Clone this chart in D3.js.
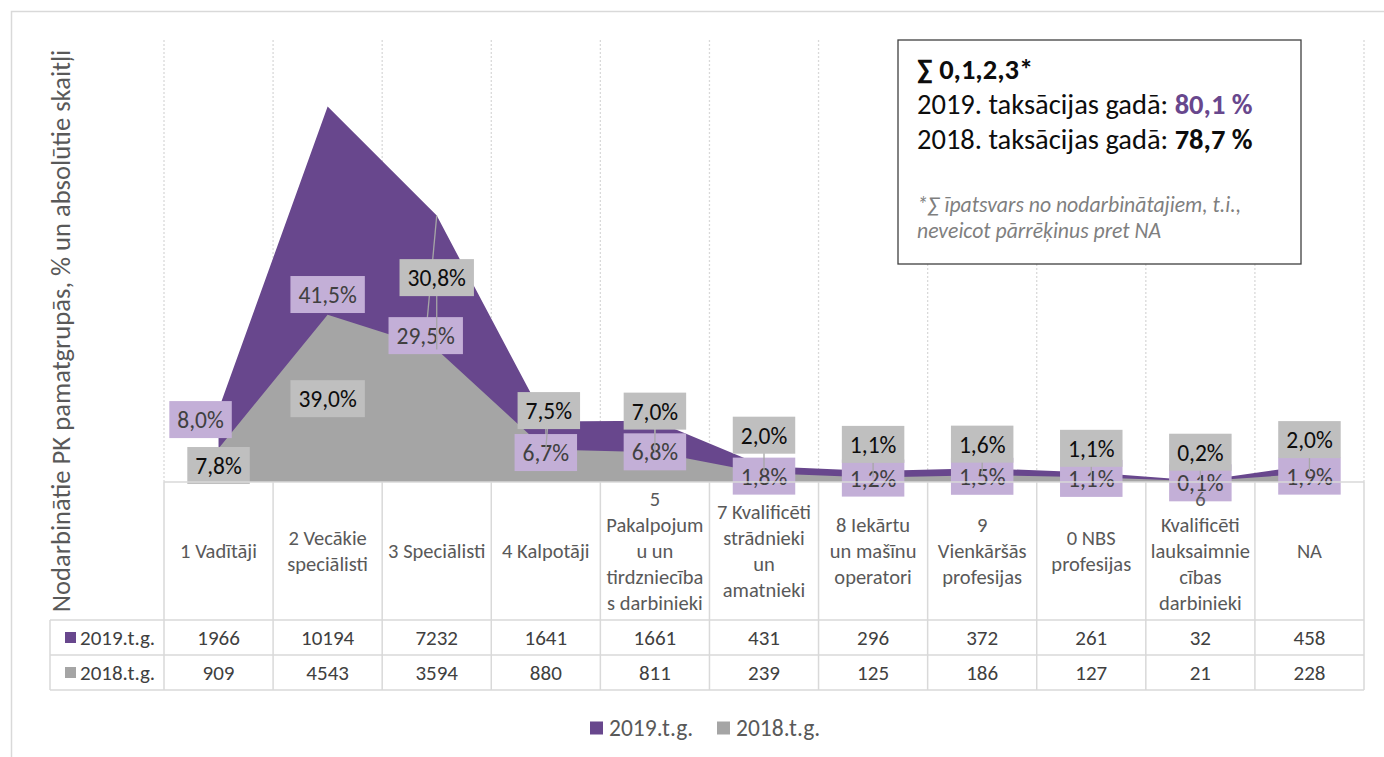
<!DOCTYPE html>
<html lang="lv">
<head>
<meta charset="UTF-8">
<title>Nodarbinātie PK pamatgrupās</title>
<script src="https://cdnjs.cloudflare.com/ajax/libs/d3/7.8.5/d3.min.js"></script>
<style>
  body { margin: 0; background: #fff; }
  svg text { font-family: Carlito, Calibri, Lato, sans-serif; }
</style>
</head>
<body>
<script>
// category names, already wrapped the way the header cells show them
const categories = [
  ["1 Vadītāji"], ["2 Vecākie", "speciālisti"], ["3 Speciālisti"], ["4 Kalpotāji"],
  ["5", "Pakalpojum", "u un", "tirdzniecība", "s darbinieki"],
  ["7 Kvalificēti", "strādnieki", "un", "amatnieki"],
  ["8 Iekārtu", "un mašīnu", "operatori"], ["9", "Vienkāršās", "profesijas"],
  ["0 NBS", "profesijas"], ["6", "Kvalificēti", "lauksaimnie", "cības", "darbinieki"], ["NA"]
];
const series = ["2019.t.g.", "2018.t.g."];
const values2019 = [1966, 10194, 7232, 1641, 1661, 431, 296, 372, 261, 32, 458];
const values2018 = [909, 4543, 3594, 880, 811, 239, 125, 186, 127, 21, 228];
const labels2019 = ["8,0%", "41,5%", "29,5%", "6,7%", "6,8%", "1,8%", "1,2%", "1,5%", "1,1%", "0,1%", "1,9%"];
const labels2018 = ["7,8%", "39,0%", "30,8%", "7,5%", "7,0%", "2,0%", "1,1%", "1,6%", "1,1%", "0,2%", "2,0%"];
const yMax = 12000;

// label placement (pixel offsets from the data point) and leader flags
const off2019 = [[-18, 10], [0, 188], [-11, 120], [0, 31], [0, 31], [0, 10], [0, 7], [0, 8], [0, 6], [0, 2], [0, 11]];
const off2018 = [[0, 17], [0, 84], [0, -72], [3, -39], [0, -41], [0, -38], [0, -33], [0, -31], [0, -29], [0, -29], [0, -34]];
const lead2019 = [0, 0, 1, 1, 1, 1, 1, 1, 1, 1, 1];
const lead2018 = [0, 0, 1, 1, 1, 1, 1, 1, 1, 1, 1];

const purple = "#68478d", grey = "#a5a5a5";
const purpleLbl = "#c3afd7", greyLbl = "#bfbfbf";
const lineCol = "#d9d9d9";

const width = 1384, height = 757;
const plotL = 164, plotR = 1364, plotT = 40, plotB = 482;
const rowH = [482, 620, 655, 690], tableLeft = 50;

const svg = d3.select("body").append("svg")
    .attr("width", width).attr("height", height);

// outer chart frame
svg.append("rect").attr("x", 11.5).attr("y", 11.5)
    .attr("width", 1400).attr("height", 800)
    .attr("fill", "none").attr("stroke", lineCol).attr("stroke-width", 1.5);

const x = d3.scaleBand().domain(d3.range(categories.length)).range([plotL, plotR]).padding(0);
const y = d3.scaleLinear().domain([0, yMax]).range([plotB, plotT]);
const cx = function(i) { return x(i) + x.bandwidth() / 2; };

// dotted vertical gridlines at category boundaries
svg.append("g").selectAll("line")
    .data(d3.range(categories.length + 1))
    .enter().append("line")
    .attr("x1", function(i) { return plotL + i * x.bandwidth(); })
    .attr("x2", function(i) { return plotL + i * x.bandwidth(); })
    .attr("y1", plotT).attr("y2", plotB)
    .attr("stroke", lineCol).attr("stroke-width", 1.3).attr("stroke-dasharray", "2,2");

const area = d3.area()
    .x(function(d, i) { return cx(i); })
    .y0(y(0))
    .y1(function(d) { return y(d); });

svg.append("path").datum(values2019).attr("d", area).attr("fill", purple);
svg.append("path").datum(values2018).attr("d", area).attr("fill", grey);

// data labels
function drawLabels(vals, texts, offs, leads, fill, color) {
  const g = svg.append("g");
  const idx = d3.range(vals.length);
  g.selectAll("line")
      .data(idx.filter(function(i) { return leads[i]; }))
      .enter().append("line")
      .attr("x1", function(i) { return cx(i); })
      .attr("y1", function(i) { return y(vals[i]); })
      .attr("x2", function(i) { return cx(i) + offs[i][0]; })
      .attr("y2", function(i) { return y(vals[i]) + offs[i][1]; })
      .attr("stroke", "#a6a6a6").attr("stroke-width", 1.3);
  const lab = g.selectAll("g.lab")
      .data(idx).enter().append("g").attr("class", "lab")
      .attr("transform", function(i) {
        return "translate(" + (cx(i) + offs[i][0]) + "," + (y(vals[i]) + offs[i][1]) + ")";
      });
  lab.append("rect").attr("fill", fill);
  const txt = lab.append("text")
      .text(function(i) { return texts[i]; })
      .attr("text-anchor", "middle").attr("dy", "0.36em")
      .attr("font-size", 23.5).attr("fill", color);
  txt.each(function() {
    const w = this.getComputedTextLength() + 16;
    d3.select(this.parentNode).select("rect")
        .attr("x", -w / 2).attr("y", -18.5).attr("width", w).attr("height", 37);
  });
}
drawLabels(values2019, labels2019, off2019, lead2019, purpleLbl, "#404040");
drawLabels(values2018, labels2018, off2018, lead2018, greyLbl, "#0d0d0d");

// data table
const table = svg.append("g").attr("stroke", lineCol).attr("stroke-width", 1.5);
rowH.forEach(function(h, k) {
  table.append("line").attr("x1", k === 0 ? plotL : tableLeft).attr("x2", plotR)
      .attr("y1", h).attr("y2", h);
});
table.append("line").attr("x1", tableLeft).attr("x2", tableLeft).attr("y1", rowH[1]).attr("y2", rowH[3]);
d3.range(categories.length + 1).forEach(function(i) {
  const xx = plotL + i * x.bandwidth();
  table.append("line").attr("x1", xx).attr("x2", xx).attr("y1", rowH[0]).attr("y2", rowH[3]);
});

const heads = svg.append("g").selectAll("text")
    .data(categories).enter().append("text")
    .attr("text-anchor", "middle").attr("font-size", 20.5).attr("fill", "#595959");
heads.each(function(lines, i) {
  const t = d3.select(this);
  const mid = (rowH[0] + rowH[1]) / 2;
  lines.forEach(function(s, k) {
    t.append("tspan").attr("x", cx(i))
        .attr("y", mid + (k - (lines.length - 1) / 2) * 26 + 7).text(s);
  });
});

[values2019, values2018].forEach(function(vals, r) {
  const yy = (rowH[r + 1] + rowH[r + 2]) / 2;
  const g = svg.append("g");
  g.selectAll("text").data(vals).enter().append("text")
      .attr("x", function(d, i) { return cx(i); })
      .attr("y", yy).attr("dy", "0.36em")
      .attr("text-anchor", "middle").attr("font-size", 21).attr("fill", "#404040")
      .text(function(d) { return d; });
  g.append("rect").attr("x", 65).attr("y", yy - 5.5).attr("width", 11).attr("height", 11)
      .attr("fill", r === 0 ? purple : grey);
  g.append("text").attr("x", 80).attr("y", yy).attr("dy", "0.36em")
      .attr("font-size", 21).attr("fill", "#404040").text(series[r]);
});

// y axis title
svg.append("text")
    .attr("transform", "translate(70,331) rotate(-90)")
    .attr("text-anchor", "middle").attr("font-size", 26.6).attr("fill", "#595959")
    .text("Nodarbinātie PK pamatgrupās, % un absolūtie skaitļi");

// legend
const legendX = [590, 717];
const legend = svg.append("g").selectAll("g")
    .data(series).enter().append("g")
    .attr("transform", function(d, i) { return "translate(" + legendX[i] + ",728)"; });
legend.append("rect").attr("x", 0).attr("y", -6.5).attr("width", 13).attr("height", 13)
    .attr("fill", function(d, i) { return i === 0 ? purple : grey; });
legend.append("text").attr("x", 19).attr("dy", "0.36em")
    .attr("font-size", 23.5).attr("fill", "#595959").text(function(d) { return d; });

// note box
const box = svg.append("g").attr("transform", "translate(898,40)");
box.append("rect").attr("width", 403).attr("height", 224)
    .attr("fill", "#fff").attr("stroke", "#404040").attr("stroke-width", 1.3);
box.append("text").attr("x", 19).attr("y", 39).attr("font-size", 28.5)
    .attr("font-weight", "bold").attr("fill", "#0d0d0d").text("∑ 0,1,2,3*");
const l1 = box.append("text").attr("x", 19).attr("y", 74).attr("font-size", 28.5).attr("fill", "#0d0d0d");
l1.append("tspan").text("2019. taksācijas gadā: ");
l1.append("tspan").attr("font-weight", "bold").attr("fill", purple).text("80,1 %");
const l2 = box.append("text").attr("x", 19).attr("y", 109).attr("font-size", 28.5).attr("fill", "#0d0d0d");
l2.append("tspan").text("2018. taksācijas gadā: ");
l2.append("tspan").attr("font-weight", "bold").text("78,7 %");
box.append("text").attr("x", 19).attr("y", 172).attr("font-size", 21.7).attr("font-style", "italic")
    .attr("fill", "#7f7f7f").text("*∑ īpatsvars no nodarbinātajiem, t.i.,");
box.append("text").attr("x", 19).attr("y", 198).attr("font-size", 21.7).attr("font-style", "italic")
    .attr("fill", "#7f7f7f").text("neveicot pārrēķinus pret NA");
</script>
</body>
</html>
